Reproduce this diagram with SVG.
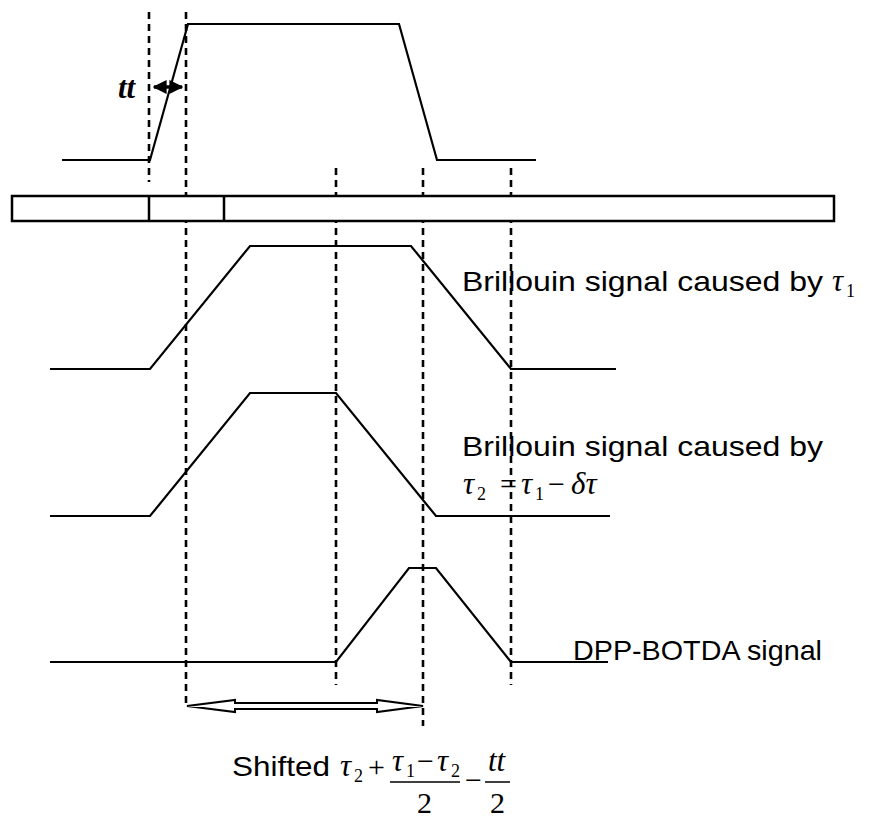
<svg xmlns="http://www.w3.org/2000/svg" width="876" height="822" viewBox="0 0 876 822">
<style>
.sig{fill:none;stroke:#000;stroke-width:2.2;stroke-linejoin:miter}
.dash{fill:none;stroke:#000;stroke-width:2.6;stroke-dasharray:7 5}
.lbl{font-family:"Liberation Sans",Arial,sans-serif;font-size:28px;fill:#000}
.math{font-family:"Liberation Serif","Times New Roman",serif;font-style:italic;font-size:31px;fill:#000}
.num{font-family:"Liberation Serif","Times New Roman",serif;font-size:30px;fill:#000}
.sub{font-family:"Liberation Serif","Times New Roman",serif;font-size:18px;fill:#000}
</style>
<defs>
<marker id="head" viewBox="0 0 10 10" refX="9" refY="5" markerWidth="4" markerHeight="4" orient="auto-start-reverse">
<path d="M0,0 L10,5 L0,10 z" fill="#000"/>
</marker>
</defs>
<rect width="876" height="822" fill="#fff"/>
<g id="connectors">
<line class="dash" x1="149" y1="12" x2="149" y2="182"/>
<line class="dash" x1="186" y1="12" x2="186" y2="706"/>
<line class="dash" x1="336" y1="168" x2="336" y2="685"/>
<line class="dash" x1="423" y1="168" x2="423" y2="726"/>
<line class="dash" x1="511" y1="168" x2="511" y2="685"/>
</g>
<g id="pump-pulse">
<polyline class="sig" points="62,160 150,160 188,24 399,24 437,160 536,160"/>
<line x1="154" y1="87" x2="182" y2="87" stroke="#000" stroke-width="3.5" marker-start="url(#head)" marker-end="url(#head)"/>
<text class="math" x="118" y="98" font-size="26" font-weight="bold">tt</text>
</g>
<g id="fiber">
<rect x="12" y="196" width="822" height="25" fill="#fff" stroke="#000" stroke-width="2.5"/>
<line x1="149" y1="196" x2="149" y2="221" stroke="#000" stroke-width="2.5"/>
<line x1="224" y1="196" x2="224" y2="221" stroke="#000" stroke-width="2.5"/>
</g>
<g id="signal1">
<polyline class="sig" points="50,369 150,369 250,246 411,246 511,369 616,369"/>
<text class="lbl" x="462" y="291" textLength="361" lengthAdjust="spacingAndGlyphs">Brillouin signal caused by</text>
<text class="math" x="832" y="291">τ</text>
<text class="sub" x="846" y="297">1</text>
</g>
<g id="signal2">
<polyline class="sig" points="50,516 150,516 250,393 336,393 436,516 610,516"/>
<text class="lbl" x="462" y="456" textLength="361" lengthAdjust="spacingAndGlyphs">Brillouin signal caused by</text>
<text class="math" x="463" y="494">τ</text>
<text class="sub" x="477" y="500">2</text>
<text class="num" x="500" y="494">=</text>
<text class="math" x="521" y="494">τ</text>
<text class="sub" x="535" y="500">1</text>
<text class="num" x="548" y="494">−</text>
<text class="math" x="571" y="494">δτ</text>
</g>
<g id="dpp-signal">
<polyline class="sig" points="50,662 336,662 409,568 436,568 511,662 608,662"/>
<text class="lbl" x="573" y="660" textLength="249" lengthAdjust="spacingAndGlyphs">DPP-BOTDA signal</text>
</g>
<g id="shift-arrow">
<polygon points="187,706 235,700 235,703 377,703 377,700 423,706 377,712 377,709 235,709 235,712" fill="#fff" stroke="#000" stroke-width="2"/>
<text class="lbl" x="232" y="776" textLength="98" lengthAdjust="spacingAndGlyphs">Shifted</text>
<text class="math" x="340" y="776">τ</text>
<text class="sub" x="354" y="782">2</text>
<text class="num" x="368" y="777">+</text>
<text class="math" x="392" y="771">τ</text>
<text class="sub" x="406" y="777">1</text>
<text class="num" x="417" y="771">−</text>
<text class="math" x="437" y="771">τ</text>
<text class="sub" x="451" y="777">2</text>
<line x1="390" y1="782" x2="460" y2="782" stroke="#000" stroke-width="1.5"/>
<text class="num" x="417" y="813" font-size="29">2</text>
<text class="num" x="465" y="790">−</text>
<text class="math" x="488" y="771">tt</text>
<line x1="485" y1="782" x2="510" y2="782" stroke="#000" stroke-width="1.5"/>
<text class="num" x="490" y="813" font-size="29">2</text>
</g>
</svg>
